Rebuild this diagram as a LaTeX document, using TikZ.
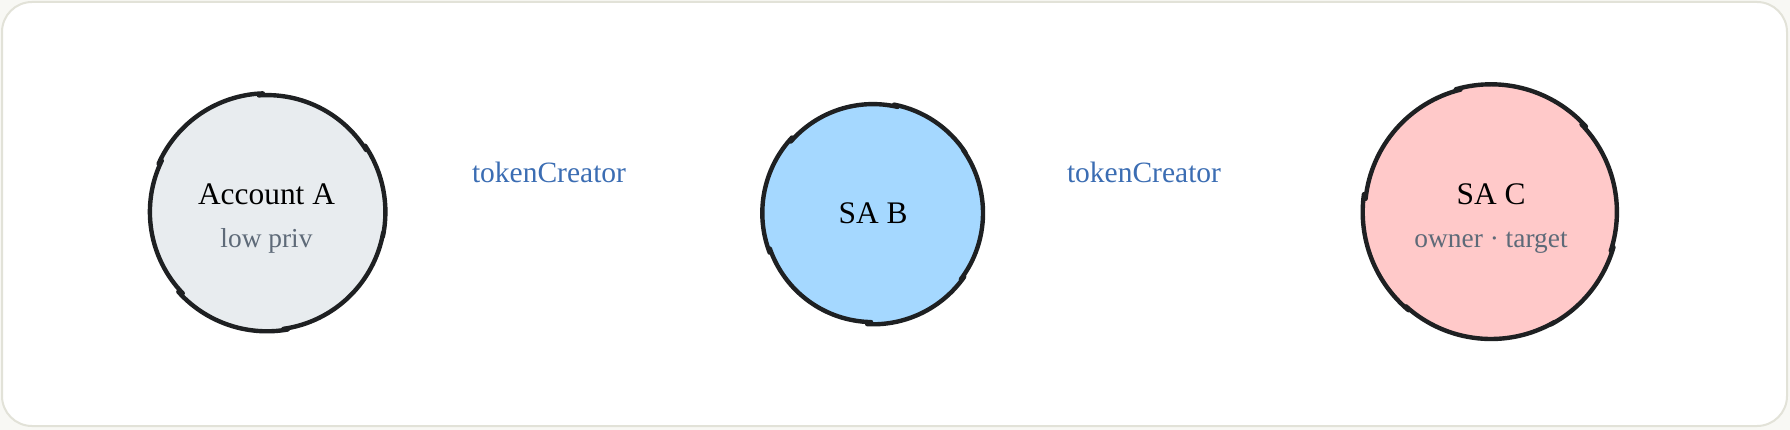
\documentclass[tikz,border=0pt]{standalone}
\usepackage{fontspec}
\setmainfont{Liberation Serif}
\usetikzlibrary{calc}
\definecolor{bgout}{HTML}{F8F8F4}
\definecolor{framec}{HTML}{E2E2D8}
\definecolor{fillA}{HTML}{E8ECEF}
\definecolor{fillB}{HTML}{A5D8FF}
\definecolor{fillC}{HTML}{FFC9C9}
\definecolor{inkc}{HTML}{1E2022}
\definecolor{lblblue}{HTML}{3B6DB3}
\definecolor{subgray}{HTML}{5E6A78}
\tikzset{
  disc/.style={circle, inner sep=0pt, draw=none},
  sk/.style={draw=inkc, line width=4.4pt, line cap=round},
  maintext/.style={anchor=base, inner sep=0pt, text=black, font=\fontsize{31.4}{36}\selectfont},
  subtext/.style={anchor=base, inner sep=0pt, text=subgray, font=\fontsize{27.4}{32}\selectfont},
  edgelabel/.style={anchor=base, inner sep=0pt, text=lblblue, font=\fontsize{29.5}{34}\selectfont}
}
\newcommand\sketchring[3]{%
  \foreach \a/\b/\d in {0/72/0, 70/128/1.3, 126/196/-0.9, 194/258/0.7, 256/318/-1.1, 316/362/0.4}{
    \draw[sk] ($(#1)+(\a+#3:#2+\d)$) arc[start angle=\a+#3, end angle=\b+#3, radius=#2+\d];
  }%
}
\begin{document}
\begin{tikzpicture}[x=1pt,y=-1pt]
\useasboundingbox (0,0) rectangle (1790,430);
\fill[bgout] (0,0) rectangle (1790,430);
\draw[framec, line width=2pt, fill=white, rounded corners=30pt] (2,2) rectangle (1787,426);

\node[disc, fill=fillA, minimum size=236pt] (A) at (267,212) {};
\node[disc, fill=fillB, minimum size=220pt] (B) at (873,213) {};
\node[disc, fill=fillC, minimum size=254pt] (C) at (1491,212) {};
\sketchring{A}{118}{10}
\sketchring{B}{110}{-35}
\sketchring{C}{127}{60}

\node[maintext] (Atitle) at (266.5,205) {Account A};
\node[subtext] (Asub) at (266.5,248) {low priv};
\node[maintext] (Btitle) at (873,224) {SA B};
\node[maintext] (Ctitle) at (1491,205) {SA C};
\node[subtext] (Csub) at (1491,248) {owner · target};

\node[edgelabel] (L1) at (549,183) {tokenCreator};
\node[edgelabel] (L2) at (1144,183) {tokenCreator};
\end{tikzpicture}
\end{document}
